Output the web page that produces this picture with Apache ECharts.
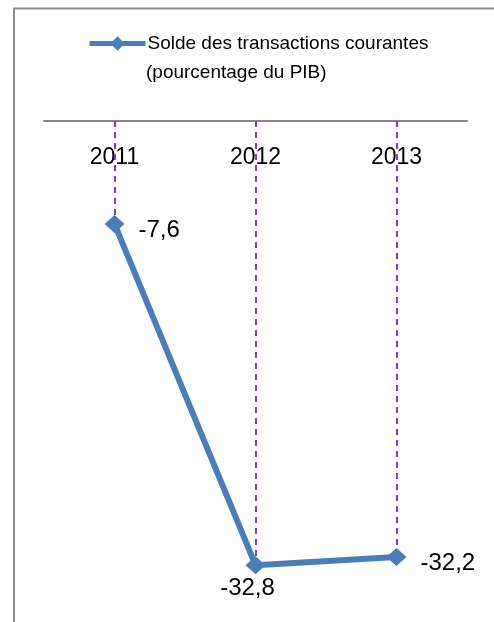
<!DOCTYPE html>
<html>
<head>
<meta charset="utf-8">
<script src="https://cdn.jsdelivr.net/npm/echarts@6/dist/echarts.min.js"></script>
<style>
html,body{margin:0;padding:0;background:#fff;}
#c{width:494px;height:622px;}
</style>
</head>
<body>
<div id="c"></div>
<script>
var categories = ['2011', '2012', '2013'];
var values = [-7.6, -32.8, -32.2];
var seriesName = 'Solde des transactions courantes';
var seriesName2 = '(pourcentage du PIB)';
var labelPositions = ['right', 'bottom', 'right'];

var chart = echarts.init(document.getElementById('c'));
var FONT = 'Liberation Sans';
var dropLines = categories.map(function (c, i) {
  return [{ coord: [c, 0] }, { coord: [c, values[i]] }];
});
var labelTweaks = {
  right: { distance: 14, offset: [0, 6] },
  bottom: { distance: 2, offset: [-8, 0] }
};
var option = {
  animation: false,
  backgroundColor: '#ffffff',
  textStyle: { fontFamily: FONT },
  grid: { left: 44, right: 27, top: 121, bottom: 27 },
  legend: {
    show: true,
    left: 82,
    top: 29,
    itemWidth: 56,
    itemHeight: 18,
    itemGap: 0,
    data: [seriesName],
    lineStyle: { width: 5, color: '#4A7EBB' },
    textStyle: { fontFamily: FONT, fontSize: 19, color: '#000', padding: [0, 0, 0, -3] }
  },
  xAxis: {
    type: 'category',
    data: categories,
    position: 'top',
    boundaryGap: true,
    axisLine: { show: true, lineStyle: { color: '#868686', width: 2 } },
    axisTick: { show: false },
    axisLabel: { inside: true, margin: 25, fontSize: 23, color: '#000', fontFamily: FONT }
  },
  yAxis: {
    type: 'value',
    min: -35,
    max: 0,
    show: false,
    splitLine: { show: false }
  },
  graphic: [
    { type: 'line', shape: { x1: 14, y1: 8, x2: 14, y2: 622 }, style: { stroke: '#8c8c8c', lineWidth: 2 }, z: 100 },
    { type: 'line', shape: { x1: 13, y1: 8.5, x2: 494, y2: 8.5 }, style: { stroke: '#8c8c8c', lineWidth: 2 }, z: 100 },
    { type: 'text', left: 146, top: 63, style: { text: seriesName2, font: '19px "Liberation Sans"', fill: '#000' } }
  ],
  series: [{
    name: seriesName,
    type: 'line',
    data: values.map(function (v, i) {
      var pos = labelPositions[i];
      return { value: v, label: { position: pos, distance: labelTweaks[pos].distance, offset: labelTweaks[pos].offset } };
    }),
    symbol: 'diamond',
    symbolSize: [20, 18],
    lineStyle: { color: '#4A7EBB', width: 6 },
    itemStyle: { color: '#4A7EBB' },
    label: {
      show: true,
      fontSize: 24,
      color: '#000',
      fontFamily: FONT,
      formatter: function (p) { return String(p.value).replace('.', ','); }
    },
    z: 3,
    markLine: {
      silent: true,
      symbol: ['none', 'none'],
      label: { show: false },
      lineStyle: { color: '#7F3FBF', width: 2, type: [6, 5] },
      data: dropLines,
      z: 1
    }
  }]
};
chart.setOption(option);
</script>
</body>
</html>
